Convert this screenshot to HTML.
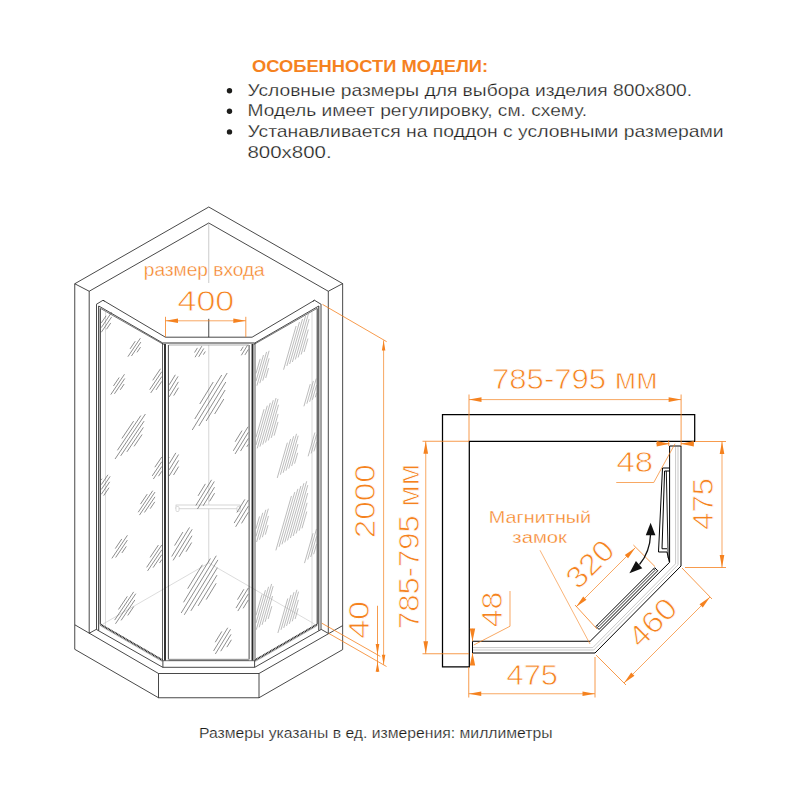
<!DOCTYPE html>
<html lang="ru"><head><meta charset="utf-8"><title>Особенности модели</title>
<style>
html,body{margin:0;padding:0;background:#fff}
body{width:800px;height:800px;overflow:hidden}
svg{display:block;font-family:"Liberation Sans",sans-serif}
</style></head><body>
<svg width="800" height="800" viewBox="0 0 800 800">
<rect width="800" height="800" fill="#fff"/>
<text x="0.00" y="0" font-size="16.8" fill="#f5821f" textLength="236.00" lengthAdjust="spacingAndGlyphs" transform="translate(252.00 72.20)" font-weight="bold">ОСОБЕННОСТИ МОДЕЛИ:</text>
<text x="-0.12" y="0" font-size="16.6" fill="#1d1d1b" textLength="444.65" lengthAdjust="spacingAndGlyphs" transform="translate(247.60 95.75)" stroke="#fff" stroke-width="0.25">Условные размеры для выбора изделия 800х800.</text>
<text x="-0.12" y="0" font-size="16.6" fill="#1d1d1b" textLength="339.65" lengthAdjust="spacingAndGlyphs" transform="translate(247.60 116.30)" stroke="#fff" stroke-width="0.25">Модель имеет регулировку, см. схему.</text>
<text x="-0.12" y="0" font-size="16.6" fill="#1d1d1b" textLength="476.15" lengthAdjust="spacingAndGlyphs" transform="translate(247.60 136.90)" stroke="#fff" stroke-width="0.25">Устанавливается на поддон с условными размерами</text>
<text x="-0.12" y="0" font-size="16.6" fill="#1d1d1b" textLength="84.15" lengthAdjust="spacingAndGlyphs" transform="translate(247.60 157.50)" stroke="#fff" stroke-width="0.25">800х800.</text>
<text x="-0.10" y="0" font-size="13.9" fill="#1d1d1b" textLength="353.70" lengthAdjust="spacingAndGlyphs" transform="translate(199.00 738.00)" stroke="#fff" stroke-width="0.2">Размеры указаны в ед. измерения: миллиметры</text>
<text x="0.00" y="0" font-size="30.2" fill="#f5821f" text-anchor="middle" textLength="56.80" lengthAdjust="spacingAndGlyphs" transform="translate(205.90 311.30)" stroke="#fff" stroke-width="0.8">400</text>
<text x="-0.17" y="0" font-size="18.1" fill="#f5821f" textLength="120.85" lengthAdjust="spacingAndGlyphs" transform="translate(144.00 275.90)" stroke="#fff" stroke-width="0.35">размер входа</text>
<text x="-1.00" y="0" font-size="30.2" fill="#f5821f" textLength="74.00" lengthAdjust="spacingAndGlyphs" transform="translate(375.40 537.30) rotate(-90)" stroke="#fff" stroke-width="0.8">2000</text>
<text x="-1.00" y="0" font-size="30.2" fill="#f5821f" textLength="37.80" lengthAdjust="spacingAndGlyphs" transform="translate(369.00 637.80) rotate(-90)" stroke="#fff" stroke-width="0.8">40</text>
<text x="-1.00" y="0" font-size="30.2" fill="#f5821f" textLength="165.60" lengthAdjust="spacingAndGlyphs" transform="translate(493.00 389.40)" stroke="#fff" stroke-width="0.8">785-795 мм</text>
<text x="-1.00" y="0" font-size="30.2" fill="#f5821f" textLength="165.00" lengthAdjust="spacingAndGlyphs" transform="translate(419.40 628.00) rotate(-90)" stroke="#fff" stroke-width="0.8">785-795 мм</text>
<text x="-1.00" y="0" font-size="30.2" fill="#f5821f" textLength="51.75" lengthAdjust="spacingAndGlyphs" transform="translate(712.50 528.75) rotate(-90)" stroke="#fff" stroke-width="0.8">475</text>
<text x="-1.00" y="0" font-size="30.2" fill="#f5821f" textLength="51.50" lengthAdjust="spacingAndGlyphs" transform="translate(507.50 684.50)" stroke="#fff" stroke-width="0.8">475</text>
<text x="0.00" y="0" font-size="30.2" fill="#f5821f" text-anchor="middle" textLength="54.00" lengthAdjust="spacingAndGlyphs" transform="translate(597.43 571.43) rotate(-45)" stroke="#fff" stroke-width="0.8">320</text>
<text x="0.00" y="0" font-size="30.2" fill="#f5821f" text-anchor="middle" textLength="55.00" lengthAdjust="spacingAndGlyphs" transform="translate(659.83 629.83) rotate(-45)" stroke="#fff" stroke-width="0.8">460</text>
<text x="-1.00" y="0" font-size="30.2" fill="#f5821f" textLength="36.75" lengthAdjust="spacingAndGlyphs" transform="translate(617.50 471.75)" stroke="#fff" stroke-width="0.8">48</text>
<text x="-1.00" y="0" font-size="30.2" fill="#f5821f" textLength="35.50" lengthAdjust="spacingAndGlyphs" transform="translate(502.00 626.25) rotate(-90)" stroke="#fff" stroke-width="0.8">48</text>
<text x="-0.15" y="0" font-size="15.7" fill="#f5821f" textLength="102.30" lengthAdjust="spacingAndGlyphs" transform="translate(489.00 522.70)" stroke="#fff" stroke-width="0.3">Магнитный</text>
<text x="-0.15" y="0" font-size="16.3" fill="#f5821f" textLength="54.60" lengthAdjust="spacingAndGlyphs" transform="translate(512.50 543.00)" stroke="#fff" stroke-width="0.3">замок</text>
<circle cx="229.5" cy="90.75" r="2.7" fill="#1d1d1b"/>
<circle cx="229.5" cy="111.3" r="2.7" fill="#1d1d1b"/>
<circle cx="229.5" cy="131.9" r="2.7" fill="#1d1d1b"/>
<polyline points="74.75,283.75 208.75,207.00 342.65,283.60" fill="none" stroke="#1a1a1a" stroke-width="0.8" stroke-linejoin="miter"/>
<polyline points="89.20,291.25 208.75,223.00 328.30,291.25" fill="none" stroke="#1a1a1a" stroke-width="0.8" stroke-linejoin="miter"/>
<line x1="74.75" y1="283.75" x2="89.20" y2="291.25" stroke="#1a1a1a" stroke-width="0.8" />
<line x1="342.65" y1="283.60" x2="328.30" y2="291.25" stroke="#1a1a1a" stroke-width="0.8" />
<line x1="74.75" y1="283.75" x2="74.75" y2="624.75" stroke="#1a1a1a" stroke-width="0.8" />
<line x1="89.20" y1="291.25" x2="89.20" y2="633.25" stroke="#1a1a1a" stroke-width="0.8" />
<line x1="342.65" y1="283.60" x2="342.65" y2="625.60" stroke="#1a1a1a" stroke-width="0.8" />
<line x1="328.30" y1="291.25" x2="328.30" y2="633.40" stroke="#1a1a1a" stroke-width="0.8" />
<line x1="208.75" y1="223.00" x2="208.75" y2="283.00" stroke="#aaa" stroke-width="0.6" />
<line x1="208.75" y1="318.80" x2="208.75" y2="337.20" stroke="#1a1a1a" stroke-width="0.8" />
<line x1="208.75" y1="345.00" x2="208.75" y2="563.00" stroke="#c4c4c4" stroke-width="0.7" />
<line x1="208.75" y1="563.00" x2="103.00" y2="624.00" stroke="#c4c4c4" stroke-width="0.6" />
<line x1="208.75" y1="563.00" x2="314.50" y2="624.00" stroke="#c4c4c4" stroke-width="0.6" />
<polyline points="74.75,624.75 158.50,673.50 259.00,673.50 342.65,625.60" fill="none" stroke="#1a1a1a" stroke-width="0.8" stroke-linejoin="miter"/>
<polyline points="74.75,624.75 74.75,649.30 158.50,697.75 259.00,697.75 342.65,649.60 342.65,625.60" fill="none" stroke="#1a1a1a" stroke-width="0.8" stroke-linejoin="miter"/>
<line x1="158.50" y1="673.50" x2="158.50" y2="697.75" stroke="#1a1a1a" stroke-width="0.8" />
<line x1="259.00" y1="673.50" x2="259.00" y2="697.75" stroke="#1a1a1a" stroke-width="0.8" />
<line x1="89.20" y1="633.25" x2="96.25" y2="629.40" stroke="#1a1a1a" stroke-width="0.8" />
<line x1="328.30" y1="633.40" x2="321.25" y2="629.40" stroke="#1a1a1a" stroke-width="0.8" />
<line x1="103.00" y1="300.25" x2="165.40" y2="337.20" stroke="#1a1a1a" stroke-width="0.8" />
<line x1="98.75" y1="306.00" x2="162.75" y2="343.00" stroke="#1a1a1a" stroke-width="0.8" />
<line x1="100.50" y1="308.40" x2="163.80" y2="344.60" stroke="#1a1a1a" stroke-width="0.6" />
<line x1="96.25" y1="304.40" x2="103.00" y2="300.25" stroke="#1a1a1a" stroke-width="0.8" />
<line x1="103.00" y1="300.25" x2="104.60" y2="301.30" stroke="#1a1a1a" stroke-width="0.8" />
<line x1="96.50" y1="304.40" x2="96.50" y2="629.40" stroke="#1a1a1a" stroke-width="0.8" />
<line x1="98.70" y1="306.00" x2="98.70" y2="630.50" stroke="#222" stroke-width="0.95" />
<line x1="100.30" y1="308.40" x2="100.30" y2="624.40" stroke="#222" stroke-width="0.95" />
<line x1="105.50" y1="312.00" x2="105.50" y2="626.00" stroke="#c4c4c4" stroke-width="0.6" />
<line x1="162.50" y1="343.00" x2="162.50" y2="660.50" stroke="#333" stroke-width="0.8" />
<line x1="165.00" y1="344.00" x2="165.00" y2="660.50" stroke="#2a2a2a" stroke-width="1.9" />
<line x1="168.40" y1="345.00" x2="168.40" y2="659.50" stroke="#1a1a1a" stroke-width="0.8" />
<line x1="100.60" y1="624.60" x2="162.30" y2="660.20" stroke="#222" stroke-width="2.0" stroke-dasharray="1.1 0.5"/>
<line x1="100.60" y1="625.90" x2="162.30" y2="661.50" stroke="#aaa" stroke-width="0.8" />
<line x1="96.25" y1="629.40" x2="162.90" y2="667.40" stroke="#1a1a1a" stroke-width="0.8" />
<line x1="314.50" y1="300.25" x2="252.10" y2="337.20" stroke="#1a1a1a" stroke-width="0.8" />
<line x1="318.75" y1="306.00" x2="254.75" y2="343.00" stroke="#1a1a1a" stroke-width="0.8" />
<line x1="317.00" y1="308.40" x2="253.70" y2="344.60" stroke="#1a1a1a" stroke-width="0.6" />
<line x1="321.25" y1="304.40" x2="314.50" y2="300.25" stroke="#1a1a1a" stroke-width="0.8" />
<line x1="314.50" y1="300.25" x2="312.90" y2="301.30" stroke="#1a1a1a" stroke-width="0.8" />
<line x1="321.00" y1="304.40" x2="321.00" y2="629.40" stroke="#1a1a1a" stroke-width="0.8" />
<line x1="318.80" y1="306.00" x2="318.80" y2="630.50" stroke="#222" stroke-width="0.95" />
<line x1="317.20" y1="308.40" x2="317.20" y2="624.40" stroke="#222" stroke-width="0.95" />
<line x1="312.00" y1="312.00" x2="312.00" y2="626.00" stroke="#c4c4c4" stroke-width="0.6" />
<line x1="255.00" y1="343.00" x2="255.00" y2="660.50" stroke="#333" stroke-width="0.8" />
<line x1="252.50" y1="344.00" x2="252.50" y2="660.50" stroke="#2a2a2a" stroke-width="1.9" />
<line x1="249.10" y1="345.00" x2="249.10" y2="659.50" stroke="#1a1a1a" stroke-width="0.8" />
<line x1="316.90" y1="624.60" x2="255.20" y2="660.20" stroke="#222" stroke-width="2.0" stroke-dasharray="1.1 0.5"/>
<line x1="316.90" y1="625.90" x2="255.20" y2="661.50" stroke="#aaa" stroke-width="0.8" />
<line x1="321.25" y1="629.40" x2="254.60" y2="667.40" stroke="#1a1a1a" stroke-width="0.8" />
<line x1="165.40" y1="337.20" x2="252.10" y2="337.20" stroke="#1a1a1a" stroke-width="0.8" />
<line x1="162.75" y1="343.00" x2="254.75" y2="343.00" stroke="#1a1a1a" stroke-width="0.9" />
<line x1="168.60" y1="345.00" x2="248.90" y2="345.00" stroke="#777" stroke-width="0.6" />
<rect x="168.6" y="658.8" width="80.30" height="1.9" fill="#999"/>
<line x1="162.30" y1="660.70" x2="255.20" y2="660.70" stroke="#1a1a1a" stroke-width="0.6" />
<line x1="162.90" y1="667.30" x2="254.60" y2="667.30" stroke="#1a1a1a" stroke-width="0.8" />
<line x1="162.90" y1="660.50" x2="162.90" y2="667.30" stroke="#1a1a1a" stroke-width="0.8" />
<line x1="254.60" y1="660.50" x2="254.60" y2="667.30" stroke="#1a1a1a" stroke-width="0.8" />
<rect x="176" y="505" width="64" height="3.8" fill="#fff" stroke="#c4c4c4" stroke-width="0.7"/>
<rect x="176" y="506.5" width="3" height="5" rx="1" fill="#fff" stroke="#c4c4c4" stroke-width="0.6"/>
<rect x="237" y="506.5" width="3" height="5" rx="1" fill="#fff" stroke="#c4c4c4" stroke-width="0.6"/>
<line x1="101.30" y1="322.90" x2="106.10" y2="315.79" stroke="#505050" stroke-width="0.65" />
<line x1="101.30" y1="327.60" x2="111.63" y2="312.28" stroke="#505050" stroke-width="0.65" />
<line x1="101.30" y1="332.29" x2="111.67" y2="316.91" stroke="#505050" stroke-width="0.65" />
<line x1="106.50" y1="329.26" x2="110.76" y2="322.95" stroke="#505050" stroke-width="0.65" />
<line x1="130.07" y1="348.88" x2="135.28" y2="341.16" stroke="#505050" stroke-width="0.65" />
<line x1="127.88" y1="356.71" x2="140.35" y2="338.23" stroke="#505050" stroke-width="0.65" />
<line x1="131.46" y1="356.01" x2="140.85" y2="342.09" stroke="#505050" stroke-width="0.65" />
<line x1="137.00" y1="352.39" x2="140.55" y2="347.12" stroke="#505050" stroke-width="0.65" />
<line x1="113.46" y1="385.96" x2="119.19" y2="377.47" stroke="#505050" stroke-width="0.65" />
<line x1="110.78" y1="394.58" x2="124.49" y2="374.26" stroke="#505050" stroke-width="0.65" />
<line x1="114.43" y1="393.81" x2="124.76" y2="378.50" stroke="#505050" stroke-width="0.65" />
<line x1="120.25" y1="389.82" x2="124.16" y2="384.04" stroke="#505050" stroke-width="0.65" />
<line x1="152.72" y1="380.32" x2="160.53" y2="368.74" stroke="#505050" stroke-width="0.65" />
<line x1="149.68" y1="389.66" x2="161.80" y2="371.68" stroke="#505050" stroke-width="0.65" />
<line x1="150.72" y1="392.95" x2="161.80" y2="376.52" stroke="#505050" stroke-width="0.65" />
<line x1="156.02" y1="389.92" x2="161.80" y2="381.36" stroke="#505050" stroke-width="0.65" />
<line x1="121.89" y1="438.47" x2="133.61" y2="421.11" stroke="#505050" stroke-width="0.65" />
<line x1="117.41" y1="450.32" x2="140.84" y2="415.58" stroke="#505050" stroke-width="0.65" />
<line x1="115.06" y1="459.00" x2="145.41" y2="414.00" stroke="#505050" stroke-width="0.65" />
<line x1="120.69" y1="455.84" x2="144.12" y2="421.11" stroke="#505050" stroke-width="0.65" />
<line x1="126.86" y1="451.89" x2="143.37" y2="427.42" stroke="#505050" stroke-width="0.65" />
<line x1="134.09" y1="446.37" x2="142.08" y2="434.53" stroke="#505050" stroke-width="0.65" />
<line x1="101.30" y1="479.81" x2="102.03" y2="478.74" stroke="#505050" stroke-width="0.65" />
<line x1="101.30" y1="484.65" x2="107.95" y2="474.79" stroke="#505050" stroke-width="0.65" />
<line x1="101.30" y1="489.49" x2="110.15" y2="476.37" stroke="#505050" stroke-width="0.65" />
<line x1="101.30" y1="494.32" x2="109.68" y2="481.89" stroke="#505050" stroke-width="0.65" />
<line x1="103.71" y1="495.58" x2="109.04" y2="487.68" stroke="#505050" stroke-width="0.65" />
<line x1="140.46" y1="504.14" x2="147.23" y2="494.11" stroke="#505050" stroke-width="0.65" />
<line x1="138.20" y1="512.24" x2="152.74" y2="490.68" stroke="#505050" stroke-width="0.65" />
<line x1="139.47" y1="515.09" x2="155.01" y2="492.05" stroke="#505050" stroke-width="0.65" />
<line x1="144.44" y1="512.46" x2="154.98" y2="496.84" stroke="#505050" stroke-width="0.65" />
<line x1="150.17" y1="508.70" x2="154.79" y2="501.86" stroke="#505050" stroke-width="0.65" />
<line x1="154.84" y1="467.23" x2="161.80" y2="456.91" stroke="#505050" stroke-width="0.65" />
<line x1="152.19" y1="475.95" x2="161.80" y2="461.70" stroke="#505050" stroke-width="0.65" />
<line x1="153.35" y1="479.02" x2="161.80" y2="466.48" stroke="#505050" stroke-width="0.65" />
<line x1="158.48" y1="476.19" x2="161.80" y2="471.27" stroke="#505050" stroke-width="0.65" />
<line x1="115.30" y1="548.60" x2="121.80" y2="538.95" stroke="#505050" stroke-width="0.65" />
<line x1="111.87" y1="558.39" x2="127.45" y2="535.29" stroke="#505050" stroke-width="0.65" />
<line x1="115.64" y1="557.51" x2="127.38" y2="540.12" stroke="#505050" stroke-width="0.65" />
<line x1="121.88" y1="552.98" x2="126.32" y2="546.40" stroke="#505050" stroke-width="0.65" />
<line x1="150.09" y1="557.40" x2="158.42" y2="545.05" stroke="#505050" stroke-width="0.65" />
<line x1="146.67" y1="567.37" x2="161.80" y2="544.93" stroke="#505050" stroke-width="0.65" />
<line x1="147.59" y1="570.88" x2="161.80" y2="549.82" stroke="#505050" stroke-width="0.65" />
<line x1="153.07" y1="567.65" x2="161.80" y2="554.70" stroke="#505050" stroke-width="0.65" />
<line x1="159.48" y1="563.02" x2="161.80" y2="559.58" stroke="#505050" stroke-width="0.65" />
<line x1="118.47" y1="609.49" x2="127.32" y2="596.37" stroke="#505050" stroke-width="0.65" />
<line x1="114.66" y1="620.08" x2="133.67" y2="591.89" stroke="#505050" stroke-width="0.65" />
<line x1="115.47" y1="623.81" x2="135.79" y2="593.68" stroke="#505050" stroke-width="0.65" />
<line x1="121.11" y1="620.38" x2="134.89" y2="599.95" stroke="#505050" stroke-width="0.65" />
<line x1="127.75" y1="615.46" x2="133.79" y2="606.51" stroke="#505050" stroke-width="0.65" />
<line x1="194.57" y1="352.53" x2="197.41" y2="347.89" stroke="#505050" stroke-width="0.65" />
<line x1="195.06" y1="357.23" x2="201.85" y2="346.14" stroke="#505050" stroke-width="0.65" />
<line x1="198.69" y1="356.81" x2="203.80" y2="348.46" stroke="#505050" stroke-width="0.65" />
<line x1="203.39" y1="354.63" x2="205.33" y2="351.47" stroke="#505050" stroke-width="0.65" />
<line x1="240.62" y1="350.98" x2="243.22" y2="346.74" stroke="#505050" stroke-width="0.65" />
<line x1="241.33" y1="355.29" x2="247.56" y2="345.13" stroke="#505050" stroke-width="0.65" />
<line x1="244.92" y1="354.91" x2="248.30" y2="349.40" stroke="#505050" stroke-width="0.65" />
<line x1="199.76" y1="404.00" x2="213.24" y2="382.00" stroke="#505050" stroke-width="0.65" />
<line x1="194.77" y1="419.00" x2="221.73" y2="375.00" stroke="#505050" stroke-width="0.65" />
<line x1="192.23" y1="430.00" x2="227.16" y2="373.00" stroke="#505050" stroke-width="0.65" />
<line x1="198.88" y1="426.00" x2="225.84" y2="382.00" stroke="#505050" stroke-width="0.65" />
<line x1="206.14" y1="421.00" x2="225.14" y2="390.00" stroke="#505050" stroke-width="0.65" />
<line x1="214.63" y1="414.00" x2="223.83" y2="399.00" stroke="#505050" stroke-width="0.65" />
<line x1="169.20" y1="378.74" x2="169.20" y2="378.74" stroke="#505050" stroke-width="0.65" />
<line x1="169.20" y1="384.79" x2="175.33" y2="374.79" stroke="#505050" stroke-width="0.65" />
<line x1="169.20" y1="390.83" x2="178.06" y2="376.37" stroke="#505050" stroke-width="0.65" />
<line x1="169.20" y1="396.87" x2="178.38" y2="381.89" stroke="#505050" stroke-width="0.65" />
<line x1="173.69" y1="395.58" x2="178.53" y2="387.68" stroke="#505050" stroke-width="0.65" />
<line x1="235.17" y1="441.77" x2="242.03" y2="430.58" stroke="#505050" stroke-width="0.65" />
<line x1="233.32" y1="450.80" x2="248.05" y2="426.76" stroke="#505050" stroke-width="0.65" />
<line x1="235.06" y1="453.98" x2="248.30" y2="432.37" stroke="#505050" stroke-width="0.65" />
<line x1="240.53" y1="451.06" x2="248.30" y2="438.38" stroke="#505050" stroke-width="0.65" />
<line x1="246.79" y1="446.86" x2="248.30" y2="444.39" stroke="#505050" stroke-width="0.65" />
<line x1="169.20" y1="457.63" x2="169.55" y2="457.05" stroke="#505050" stroke-width="0.65" />
<line x1="169.20" y1="463.73" x2="175.87" y2="452.84" stroke="#505050" stroke-width="0.65" />
<line x1="169.20" y1="469.83" x2="178.58" y2="454.53" stroke="#505050" stroke-width="0.65" />
<line x1="169.20" y1="475.94" x2="178.71" y2="460.42" stroke="#505050" stroke-width="0.65" />
<line x1="173.50" y1="475.02" x2="178.66" y2="466.60" stroke="#505050" stroke-width="0.65" />
<line x1="198.05" y1="495.86" x2="205.38" y2="483.89" stroke="#505050" stroke-width="0.65" />
<line x1="195.85" y1="505.51" x2="211.60" y2="479.82" stroke="#505050" stroke-width="0.65" />
<line x1="197.49" y1="508.91" x2="214.32" y2="481.45" stroke="#505050" stroke-width="0.65" />
<line x1="203.13" y1="505.79" x2="214.54" y2="487.16" stroke="#505050" stroke-width="0.65" />
<line x1="209.60" y1="501.30" x2="214.60" y2="493.14" stroke="#505050" stroke-width="0.65" />
<line x1="236.86" y1="512.49" x2="244.90" y2="499.37" stroke="#505050" stroke-width="0.65" />
<line x1="234.15" y1="523.08" x2="248.30" y2="499.99" stroke="#505050" stroke-width="0.65" />
<line x1="235.64" y1="526.81" x2="248.30" y2="506.15" stroke="#505050" stroke-width="0.65" />
<line x1="241.52" y1="523.38" x2="248.30" y2="512.31" stroke="#505050" stroke-width="0.65" />
<line x1="174.59" y1="545.59" x2="182.90" y2="532.04" stroke="#505050" stroke-width="0.65" />
<line x1="171.69" y1="556.52" x2="189.52" y2="527.42" stroke="#505050" stroke-width="0.65" />
<line x1="173.13" y1="560.37" x2="192.19" y2="529.27" stroke="#505050" stroke-width="0.65" />
<line x1="179.10" y1="556.83" x2="192.02" y2="535.74" stroke="#505050" stroke-width="0.65" />
<line x1="186.01" y1="551.75" x2="191.67" y2="542.51" stroke="#505050" stroke-width="0.65" />
<line x1="187.67" y1="588.72" x2="202.33" y2="564.79" stroke="#505050" stroke-width="0.65" />
<line x1="183.54" y1="602.32" x2="210.42" y2="558.44" stroke="#505050" stroke-width="0.65" />
<line x1="181.18" y1="613.01" x2="216.29" y2="555.73" stroke="#505050" stroke-width="0.65" />
<line x1="184.27" y1="614.82" x2="217.93" y2="559.89" stroke="#505050" stroke-width="0.65" />
<line x1="190.92" y1="610.84" x2="217.36" y2="567.69" stroke="#505050" stroke-width="0.65" />
<line x1="198.12" y1="605.94" x2="217.00" y2="575.12" stroke="#505050" stroke-width="0.65" />
<line x1="206.20" y1="599.60" x2="216.20" y2="583.28" stroke="#505050" stroke-width="0.65" />
<line x1="237.49" y1="599.68" x2="243.88" y2="589.26" stroke="#505050" stroke-width="0.65" />
<line x1="235.99" y1="608.09" x2="248.30" y2="588.00" stroke="#505050" stroke-width="0.65" />
<line x1="237.82" y1="611.05" x2="248.30" y2="593.95" stroke="#505050" stroke-width="0.65" />
<line x1="243.14" y1="608.33" x2="248.30" y2="599.91" stroke="#505050" stroke-width="0.65" />
<line x1="215.23" y1="642.23" x2="221.85" y2="631.42" stroke="#505050" stroke-width="0.65" />
<line x1="213.55" y1="650.95" x2="227.78" y2="627.74" stroke="#505050" stroke-width="0.65" />
<line x1="215.34" y1="654.02" x2="230.54" y2="629.21" stroke="#505050" stroke-width="0.65" />
<line x1="220.74" y1="651.19" x2="231.05" y2="634.37" stroke="#505050" stroke-width="0.65" />
<line x1="226.88" y1="647.14" x2="231.40" y2="639.77" stroke="#505050" stroke-width="0.65" />
<line x1="283.59" y1="369.70" x2="296.12" y2="326.00" stroke="#8e8e8e" stroke-width="0.6" />
<line x1="286.85" y1="366.00" x2="299.47" y2="322.00" stroke="#8e8e8e" stroke-width="0.6" />
<line x1="289.63" y1="364.00" x2="302.53" y2="319.00" stroke="#8e8e8e" stroke-width="0.6" />
<line x1="292.40" y1="362.00" x2="305.59" y2="316.00" stroke="#8e8e8e" stroke-width="0.6" />
<line x1="295.32" y1="359.50" x2="308.36" y2="314.00" stroke="#8e8e8e" stroke-width="0.6" />
<line x1="298.09" y1="357.50" x2="309.13" y2="319.00" stroke="#8e8e8e" stroke-width="0.6" />
<line x1="301.15" y1="354.50" x2="308.32" y2="329.50" stroke="#8e8e8e" stroke-width="0.6" />
<line x1="304.07" y1="352.00" x2="307.94" y2="338.50" stroke="#8e8e8e" stroke-width="0.6" />
<line x1="256.00" y1="373.46" x2="260.19" y2="358.84" stroke="#8e8e8e" stroke-width="0.6" />
<line x1="256.00" y1="381.13" x2="263.49" y2="355.01" stroke="#8e8e8e" stroke-width="0.6" />
<line x1="256.90" y1="385.66" x2="266.58" y2="351.92" stroke="#8e8e8e" stroke-width="0.6" />
<line x1="259.80" y1="383.23" x2="269.11" y2="350.74" stroke="#8e8e8e" stroke-width="0.6" />
<line x1="262.72" y1="380.73" x2="269.14" y2="358.33" stroke="#8e8e8e" stroke-width="0.6" />
<line x1="265.70" y1="378.00" x2="268.55" y2="368.05" stroke="#8e8e8e" stroke-width="0.6" />
<line x1="256.00" y1="437.33" x2="264.06" y2="409.21" stroke="#8e8e8e" stroke-width="0.6" />
<line x1="256.00" y1="445.01" x2="267.29" y2="405.65" stroke="#8e8e8e" stroke-width="0.6" />
<line x1="257.23" y1="448.39" x2="270.29" y2="402.85" stroke="#8e8e8e" stroke-width="0.6" />
<line x1="259.94" y1="446.61" x2="273.25" y2="400.18" stroke="#8e8e8e" stroke-width="0.6" />
<line x1="262.73" y1="444.57" x2="276.07" y2="398.02" stroke="#8e8e8e" stroke-width="0.6" />
<line x1="265.51" y1="442.54" x2="278.02" y2="398.91" stroke="#8e8e8e" stroke-width="0.6" />
<line x1="268.29" y1="440.50" x2="278.54" y2="404.76" stroke="#8e8e8e" stroke-width="0.6" />
<line x1="271.24" y1="437.89" x2="278.11" y2="413.92" stroke="#8e8e8e" stroke-width="0.6" />
<line x1="274.08" y1="435.67" x2="278.02" y2="421.93" stroke="#8e8e8e" stroke-width="0.6" />
<line x1="303.91" y1="406.34" x2="310.28" y2="384.11" stroke="#8e8e8e" stroke-width="0.6" />
<line x1="306.87" y1="403.69" x2="313.39" y2="380.93" stroke="#8e8e8e" stroke-width="0.6" />
<line x1="309.61" y1="401.79" x2="316.29" y2="378.51" stroke="#8e8e8e" stroke-width="0.6" />
<line x1="312.40" y1="399.75" x2="316.60" y2="385.09" stroke="#8e8e8e" stroke-width="0.6" />
<line x1="315.29" y1="397.33" x2="316.60" y2="392.76" stroke="#8e8e8e" stroke-width="0.6" />
<line x1="277.26" y1="477.95" x2="287.37" y2="442.68" stroke="#8e8e8e" stroke-width="0.6" />
<line x1="280.40" y1="474.70" x2="290.62" y2="439.05" stroke="#8e8e8e" stroke-width="0.6" />
<line x1="283.14" y1="472.81" x2="293.63" y2="436.23" stroke="#8e8e8e" stroke-width="0.6" />
<line x1="285.93" y1="470.73" x2="296.52" y2="433.81" stroke="#8e8e8e" stroke-width="0.6" />
<line x1="288.73" y1="468.64" x2="298.18" y2="435.69" stroke="#8e8e8e" stroke-width="0.6" />
<line x1="291.66" y1="466.09" x2="297.97" y2="444.10" stroke="#8e8e8e" stroke-width="0.6" />
<line x1="294.56" y1="463.67" x2="297.68" y2="452.77" stroke="#8e8e8e" stroke-width="0.6" />
<line x1="308.13" y1="456.29" x2="314.94" y2="432.53" stroke="#8e8e8e" stroke-width="0.6" />
<line x1="311.14" y1="453.46" x2="316.60" y2="434.42" stroke="#8e8e8e" stroke-width="0.6" />
<line x1="313.92" y1="451.43" x2="316.60" y2="442.09" stroke="#8e8e8e" stroke-width="0.6" />
<line x1="275.86" y1="550.38" x2="291.47" y2="495.95" stroke="#8e8e8e" stroke-width="0.6" />
<line x1="279.09" y1="546.80" x2="294.78" y2="492.07" stroke="#8e8e8e" stroke-width="0.6" />
<line x1="281.98" y1="544.39" x2="297.90" y2="488.89" stroke="#8e8e8e" stroke-width="0.6" />
<line x1="284.74" y1="542.45" x2="300.93" y2="485.98" stroke="#8e8e8e" stroke-width="0.6" />
<line x1="287.51" y1="540.44" x2="303.92" y2="483.21" stroke="#8e8e8e" stroke-width="0.6" />
<line x1="290.41" y1="538.02" x2="306.68" y2="481.28" stroke="#8e8e8e" stroke-width="0.6" />
<line x1="293.18" y1="536.01" x2="307.77" y2="485.15" stroke="#8e8e8e" stroke-width="0.6" />
<line x1="296.10" y1="533.52" x2="307.71" y2="493.04" stroke="#8e8e8e" stroke-width="0.6" />
<line x1="299.09" y1="530.76" x2="307.11" y2="502.80" stroke="#8e8e8e" stroke-width="0.6" />
<line x1="301.99" y1="528.33" x2="306.81" y2="511.52" stroke="#8e8e8e" stroke-width="0.6" />
<line x1="256.00" y1="528.73" x2="259.53" y2="516.42" stroke="#8e8e8e" stroke-width="0.6" />
<line x1="256.00" y1="536.40" x2="262.78" y2="512.77" stroke="#8e8e8e" stroke-width="0.6" />
<line x1="256.61" y1="541.96" x2="265.82" y2="509.82" stroke="#8e8e8e" stroke-width="0.6" />
<line x1="259.47" y1="539.65" x2="268.34" y2="508.70" stroke="#8e8e8e" stroke-width="0.6" />
<line x1="262.35" y1="537.26" x2="268.47" y2="515.93" stroke="#8e8e8e" stroke-width="0.6" />
<line x1="265.30" y1="534.67" x2="268.01" y2="525.19" stroke="#8e8e8e" stroke-width="0.6" />
<line x1="304.51" y1="563.11" x2="313.09" y2="533.21" stroke="#8e8e8e" stroke-width="0.6" />
<line x1="307.73" y1="559.55" x2="316.51" y2="528.93" stroke="#8e8e8e" stroke-width="0.6" />
<line x1="310.67" y1="556.99" x2="316.60" y2="536.30" stroke="#8e8e8e" stroke-width="0.6" />
<line x1="313.65" y1="554.25" x2="316.60" y2="543.98" stroke="#8e8e8e" stroke-width="0.6" />
<line x1="256.00" y1="615.36" x2="262.02" y2="594.37" stroke="#8e8e8e" stroke-width="0.6" />
<line x1="256.00" y1="623.03" x2="265.44" y2="590.11" stroke="#8e8e8e" stroke-width="0.6" />
<line x1="256.28" y1="629.74" x2="268.59" y2="586.79" stroke="#8e8e8e" stroke-width="0.6" />
<line x1="259.18" y1="627.29" x2="271.61" y2="583.95" stroke="#8e8e8e" stroke-width="0.6" />
<line x1="262.08" y1="624.84" x2="273.17" y2="586.16" stroke="#8e8e8e" stroke-width="0.6" />
<line x1="265.14" y1="621.84" x2="272.54" y2="596.03" stroke="#8e8e8e" stroke-width="0.6" />
<line x1="268.16" y1="619.00" x2="271.82" y2="606.21" stroke="#8e8e8e" stroke-width="0.6" />
<line x1="277.90" y1="632.97" x2="287.79" y2="598.47" stroke="#8e8e8e" stroke-width="0.6" />
<line x1="281.01" y1="629.79" x2="291.01" y2="594.92" stroke="#8e8e8e" stroke-width="0.6" />
<line x1="283.74" y1="627.95" x2="294.01" y2="592.16" stroke="#8e8e8e" stroke-width="0.6" />
<line x1="286.53" y1="625.91" x2="296.88" y2="589.79" stroke="#8e8e8e" stroke-width="0.6" />
<line x1="289.31" y1="623.87" x2="298.56" y2="591.63" stroke="#8e8e8e" stroke-width="0.6" />
<line x1="292.23" y1="621.37" x2="298.40" y2="599.86" stroke="#8e8e8e" stroke-width="0.6" />
<line x1="295.11" y1="619.00" x2="298.16" y2="608.34" stroke="#8e8e8e" stroke-width="0.6" />
<line x1="165.50" y1="316.80" x2="165.50" y2="337.00" stroke="#f5821f" stroke-width="0.8" />
<line x1="245.80" y1="316.80" x2="245.80" y2="337.00" stroke="#f5821f" stroke-width="0.8" />
<line x1="165.50" y1="320.80" x2="245.80" y2="320.80" stroke="#f5821f" stroke-width="0.7" />
<polygon points="165.50,320.80 178.00,318.50 178.00,323.10" fill="#f5821f"/>
<polygon points="245.80,320.80 233.30,323.10 233.30,318.50" fill="#f5821f"/>
<line x1="322.50" y1="304.40" x2="386.70" y2="341.70" stroke="#f5821f" stroke-width="0.8" />
<line x1="383.60" y1="340.40" x2="383.60" y2="664.80" stroke="#f5821f" stroke-width="0.7" />
<polygon points="383.60,340.40 385.35,350.40 381.85,350.40" fill="#f5821f"/>
<polygon points="383.60,664.80 381.85,654.80 385.35,654.80" fill="#f5821f"/>
<line x1="321.80" y1="623.20" x2="380.30" y2="656.40" stroke="#f5821f" stroke-width="0.8" />
<line x1="328.60" y1="633.30" x2="386.50" y2="666.50" stroke="#f5821f" stroke-width="0.8" />
<line x1="377.50" y1="605.75" x2="377.50" y2="672.00" stroke="#f5821f" stroke-width="0.8" />
<polygon points="377.50,655.00 375.70,644.00 379.30,644.00" fill="#f5821f"/>
<polygon points="377.50,661.80 379.30,671.80 375.70,671.80" fill="#f5821f"/>
<polygon points="442.50,414.60 694.70,414.60 694.70,441.40 469.30,441.40 469.30,666.75 442.50,666.75" fill="none" stroke="#000" stroke-width="1.25" stroke-linejoin="miter"/>
<polyline points="472.50,653.00 595.00,653.00 681.00,566.00 681.00,446.00 669.60,446.00 669.60,562.30 590.20,641.25 472.50,641.25 472.50,653.00" fill="none" stroke="#000" stroke-width="1.0" stroke-linejoin="miter"/>
<polyline points="473.00,647.60 592.80,647.60 675.60,563.80 675.60,447.00" fill="none" stroke="#b0b0b0" stroke-width="0.7" stroke-linejoin="miter"/>
<polyline points="473.00,650.00 593.80,650.00 678.00,564.80 678.00,447.00" fill="none" stroke="#b0b0b0" stroke-width="0.7" stroke-linejoin="miter"/>
<polyline points="669.60,468.00 662.50,468.00 658.50,552.00 667.00,552.00 669.40,562.30" fill="none" stroke="#000" stroke-width="1.0" stroke-linejoin="miter"/>
<polyline points="669.60,471.00 664.60,471.00 662.00,548.75 667.00,548.75" fill="none" stroke="#000" stroke-width="1.0" stroke-linejoin="miter"/>
<line x1="666.30" y1="471.00" x2="668.20" y2="558.00" stroke="#000" stroke-width="0.9" />
<polygon points="596.00,626.40 654.69,567.71 657.73,570.75 599.04,629.44" fill="none" stroke="#000" stroke-width="1.0" stroke-linejoin="miter"/>
<polyline points="597.13,625.27 598.62,626.75 655.04,570.33 653.56,568.84" fill="none" stroke="#000" stroke-width="0.8" stroke-linejoin="miter"/>
<line x1="469.00" y1="394.50" x2="469.00" y2="441.00" stroke="#f5821f" stroke-width="0.8" />
<line x1="681.10" y1="394.50" x2="681.10" y2="446.00" stroke="#f5821f" stroke-width="0.8" />
<line x1="469.00" y1="399.60" x2="681.10" y2="399.60" stroke="#f5821f" stroke-width="0.7" />
<polygon points="469.00,399.60 481.50,397.30 481.50,401.90" fill="#f5821f"/>
<polygon points="681.10,399.60 668.60,401.90 668.60,397.30" fill="#f5821f"/>
<line x1="422.50" y1="441.25" x2="469.00" y2="441.25" stroke="#f5821f" stroke-width="0.8" />
<line x1="422.50" y1="653.75" x2="469.00" y2="653.75" stroke="#f5821f" stroke-width="0.8" />
<line x1="425.75" y1="441.25" x2="425.75" y2="653.75" stroke="#f5821f" stroke-width="0.7" />
<polygon points="425.75,441.25 428.05,453.75 423.45,453.75" fill="#f5821f"/>
<polygon points="425.75,653.75 423.45,641.25 428.05,641.25" fill="#f5821f"/>
<line x1="695.00" y1="441.50" x2="726.00" y2="441.50" stroke="#f5821f" stroke-width="0.8" />
<line x1="685.00" y1="567.50" x2="726.00" y2="567.50" stroke="#f5821f" stroke-width="0.8" />
<line x1="722.00" y1="441.50" x2="722.00" y2="567.50" stroke="#f5821f" stroke-width="0.7" />
<polygon points="722.00,441.50 724.30,454.00 719.70,454.00" fill="#f5821f"/>
<polygon points="722.00,567.50 719.70,555.00 724.30,555.00" fill="#f5821f"/>
<line x1="468.75" y1="667.00" x2="468.75" y2="697.50" stroke="#f5821f" stroke-width="0.8" />
<line x1="595.00" y1="657.00" x2="595.00" y2="697.50" stroke="#f5821f" stroke-width="0.8" />
<line x1="468.75" y1="693.75" x2="595.00" y2="693.75" stroke="#f5821f" stroke-width="0.7" />
<polygon points="468.75,693.75 481.25,691.45 481.25,696.05" fill="#f5821f"/>
<polygon points="595.00,693.75 582.50,696.05 582.50,691.45" fill="#f5821f"/>
<line x1="575.00" y1="605.00" x2="597.00" y2="629.00" stroke="#f5821f" stroke-width="0.8" />
<line x1="633.40" y1="545.00" x2="655.00" y2="566.60" stroke="#f5821f" stroke-width="0.8" />
<line x1="576.00" y1="607.00" x2="635.30" y2="547.70" stroke="#f5821f" stroke-width="0.7" />
<polygon points="576.00,607.00 583.21,596.53 586.47,599.79" fill="#f5821f"/>
<polygon points="635.30,547.70 628.09,558.17 624.83,554.91" fill="#f5821f"/>
<line x1="682.00" y1="568.00" x2="712.00" y2="599.00" stroke="#f5821f" stroke-width="0.8" />
<line x1="596.00" y1="655.00" x2="626.00" y2="685.00" stroke="#f5821f" stroke-width="0.8" />
<line x1="624.00" y1="683.00" x2="710.00" y2="597.00" stroke="#f5821f" stroke-width="0.7" />
<polygon points="624.00,683.00 631.21,672.53 634.47,675.79" fill="#f5821f"/>
<polygon points="710.00,597.00 702.79,607.47 699.53,604.21" fill="#f5821f"/>
<line x1="656.00" y1="443.75" x2="669.50" y2="443.75" stroke="#f5821f" stroke-width="0.8" />
<line x1="681.00" y1="443.75" x2="694.00" y2="443.75" stroke="#f5821f" stroke-width="0.8" />
<polygon points="669.50,443.75 656.70,446.45 656.70,441.05" fill="#f5821f"/>
<polygon points="681.00,443.75 693.80,441.05 693.80,446.45" fill="#f5821f"/>
<line x1="668.70" y1="440.00" x2="668.70" y2="446.00" stroke="#f5821f" stroke-width="0.8" />
<polyline points="616.25,482.50 653.75,482.50 675.00,443.75" fill="none" stroke="#f5821f" stroke-width="0.7" stroke-linejoin="miter"/>
<line x1="472.50" y1="628.75" x2="472.50" y2="641.25" stroke="#f5821f" stroke-width="0.8" />
<line x1="472.50" y1="653.00" x2="472.50" y2="665.00" stroke="#f5821f" stroke-width="0.8" />
<polygon points="472.50,641.25 469.80,628.45 475.20,628.45" fill="#f5821f"/>
<polygon points="472.50,653.00 475.20,665.50 469.80,665.50" fill="#f5821f"/>
<polyline points="510.00,591.00 510.00,626.25 473.75,645.00" fill="none" stroke="#f5821f" stroke-width="0.7" stroke-linejoin="miter"/>
<line x1="540.00" y1="550.25" x2="590.00" y2="644.00" stroke="#f5821f" stroke-width="0.6" />
<path d="M650.6,534 Q650,552 639.5,564.5" fill="none" stroke="#111" stroke-width="1.3"/>
<polygon points="650.60,522.80 655.40,535.30 645.80,535.30" fill="#111"/>
<polygon points="629.40,573.30 635.94,561.08 642.31,568.27" fill="#111"/>
</svg>
</body></html>
